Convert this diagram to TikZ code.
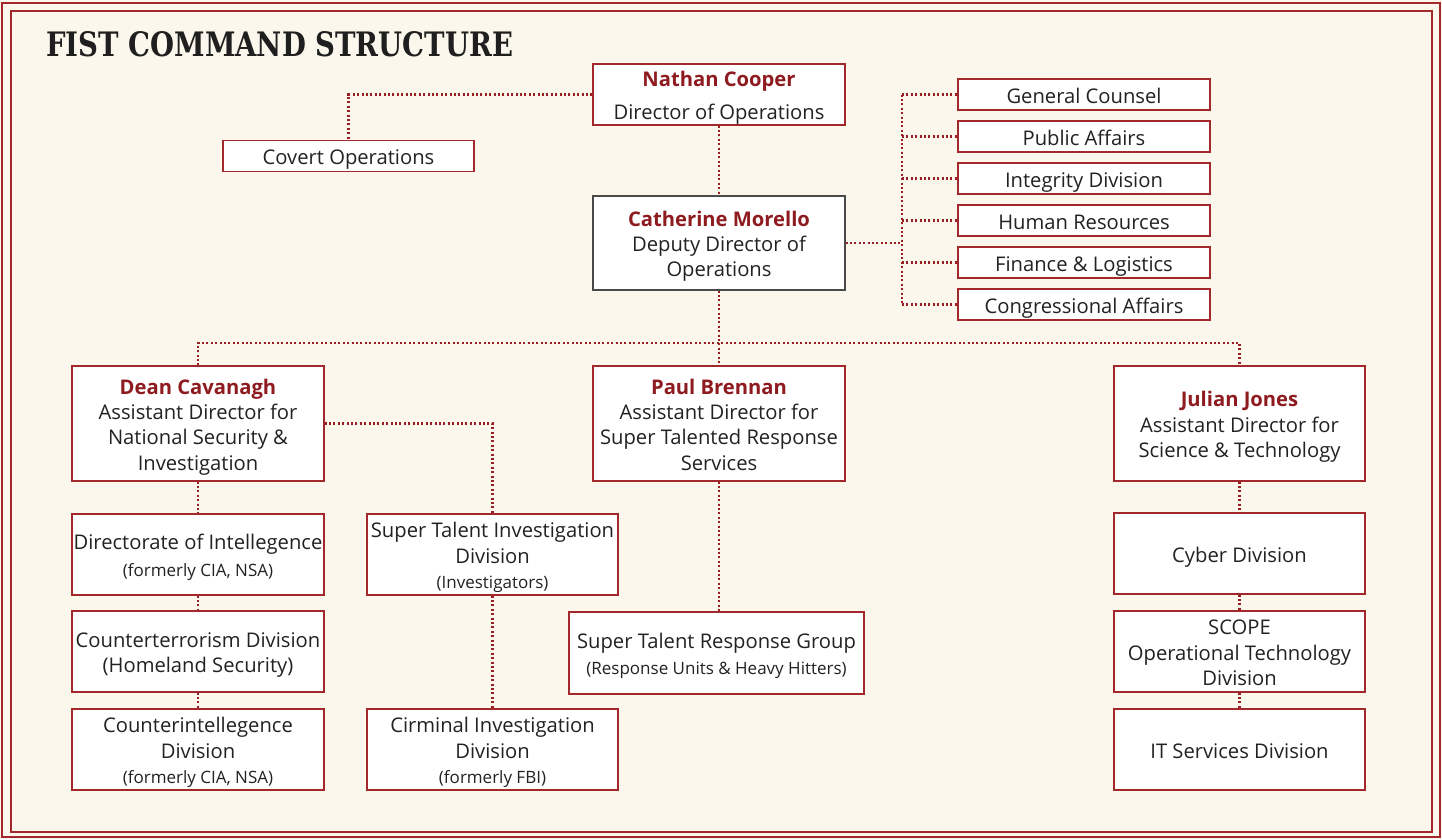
\documentclass[tikz,border=0pt]{standalone}
\usepackage{fontspec}
\setmainfont{Open Sans}
\newfontfamily\titlefont{DejaVu Serif}
\definecolor{bg}{HTML}{FBF7EC}
\definecolor{fred}{HTML}{A3282C}
\definecolor{dotred}{HTML}{9A1F24}
\definecolor{namered}{HTML}{8E1B1F}
\definecolor{txt}{HTML}{222222}
\definecolor{gborder}{HTML}{4A4A4A}
\newcommand\pname[1]{{\bfseries\color{namered}#1}}
\newcommand\smtxt[1]{{\fontsize{17}{20}\selectfont #1}}
\newcommand\tb[1]{\raisebox{-3.5pt}[\height][\depth]{\begin{tabular}{@{}c@{}}#1\end{tabular}}}
\begin{document}
\begin{tikzpicture}[x=1pt,y=-1pt,
  box/.style={draw=fred, line width=1.3pt, fill=white, inner sep=0pt,
    text=txt, font=\fontsize{20.2}{25.3}\selectfont},
  wbox/.style={box, minimum width=252, minimum height=81},
  sbox/.style={box, minimum width=252, minimum height=31},
  conn/.style={draw=dotred, line width=2.2pt, dash pattern=on 2pt off 2.4pt}]
\useasboundingbox (0,0) rectangle (1442,839);
\fill[bg] (0,0) rectangle (1442,839);
\draw[fred, line width=1.8pt] (2,3) rectangle (1440,837);
\draw[fred, line width=1.6pt] (11,11) rectangle (1432,832);
\node[anchor=base west, inner sep=0pt, text=black!88] (title) at (46,56)
  {\resizebox{467pt}{25pt}{\titlefont\bfseries FIST COMMAND STRUCTURE}};

% top level
\node[box, minimum width=252, minimum height=61] (nathan) at (719,94.5)
  {\tb{\pname{Nathan Cooper}\\[8pt]Director of Operations}};
\node[sbox, minimum width=251] (covert) at (348.5,156) {\tb{Covert Operations}};
\node[box, draw=gborder, minimum width=252, minimum height=94] (cathy) at (719,243)
  {\tb{\pname{Catherine Morello}\\Deputy Director of\\Operations}};

% staff offices
\node[sbox] (gc) at (1084,94.5) {\tb{General Counsel}};
\node[sbox] (pa) at (1084,136.5) {\tb{Public Affairs}};
\node[sbox] (id) at (1084,178.5) {\tb{Integrity Division}};
\node[sbox] (hr) at (1084,220.5) {\tb{Human Resources}};
\node[sbox] (fl) at (1084,262.5) {\tb{Finance \& Logistics}};
\node[sbox] (ca) at (1084,304.5) {\tb{Congressional Affairs}};

% assistant directors
\node[box, minimum width=252, minimum height=115] (dean) at (198,423.5)
  {\tb{\pname{Dean Cavanagh}\\Assistant Director for\\National Security \&\\Investigation}};
\node[box, minimum width=252, minimum height=115] (paul) at (719,423.5)
  {\tb{\pname{Paul Brennan}\\Assistant Director for\\Super Talented Response\\Services}};
\node[box, minimum width=251, minimum height=115] (julian) at (1239.5,423.5)
  {\tb{\pname{Julian Jones}\\Assistant Director for\\Science \& Technology}};

% divisions
\node[wbox] (doi) at (198,554.5)
  {\tb{Directorate of Intellegence\\[2pt]\smtxt{(formerly CIA, NSA)}}};
\node[wbox] (ctd) at (198,651.5)
  {\tb{Counterterrorism Division\\(Homeland Security)}};
\node[wbox] (cid) at (198,749.5)
  {\tb{Counterintellegence\\Division\\\smtxt{(formerly CIA, NSA)}}};
\node[wbox, minimum width=251] (sti) at (492.5,554.5)
  {\tb{Super Talent Investigation\\Division\\\smtxt{(Investigators)}}};
\node[wbox, minimum width=251] (crim) at (492.5,749.5)
  {\tb{Cirminal Investigation\\Division\\\smtxt{(formerly FBI)}}};
\node[wbox, minimum width=295, minimum height=82] (strg) at (716.5,653)
  {\tb{Super Talent Response Group\\\smtxt{(Response Units \& Heavy Hitters)}}};
\node[wbox, minimum width=251] (cyber) at (1239.5,553.5) {\tb{Cyber Division}};
\node[wbox, minimum width=251] (scope) at (1239.5,651.5)
  {\tb{SCOPE\\Operational Technology\\Division}};
\node[wbox, minimum width=251] (its) at (1239.5,749.5) {\tb{IT Services Division}};

% connectors
\coordinate (bus) at (902,0);
\coordinate (hbus) at (0,343);
\draw[conn] (nathan.west) -| (covert.north);
\draw[conn] (nathan.south) -- (cathy.north);
\draw[conn] (cathy.east) -- (cathy.east -| bus);
\draw[conn] (gc.west -| bus) -- (ca.west -| bus);
\foreach \n in {gc,pa,id,hr,fl,ca} \draw[conn] (\n.west -| bus) -- (\n.west);
\draw[conn] (cathy.south) -- (paul.north);
\draw[conn] (dean.north) -- (dean.north |- hbus) -- (julian.north |- hbus) -- (julian.north);
\draw[conn] (dean.south) -- (doi.north);
\draw[conn] (doi.south) -- (ctd.north);
\draw[conn] (ctd.south) -- (cid.north);
\draw[conn] (dean.east) -| (sti.north);
\draw[conn] (sti.south) -- (crim.north);
\draw[conn] (paul.south) -- (paul.south |- strg.north);
\draw[conn] (julian.south) -- (cyber.north);
\draw[conn] (cyber.south) -- (scope.north);
\draw[conn] (scope.south) -- (its.north);
\end{tikzpicture}
\end{document}
